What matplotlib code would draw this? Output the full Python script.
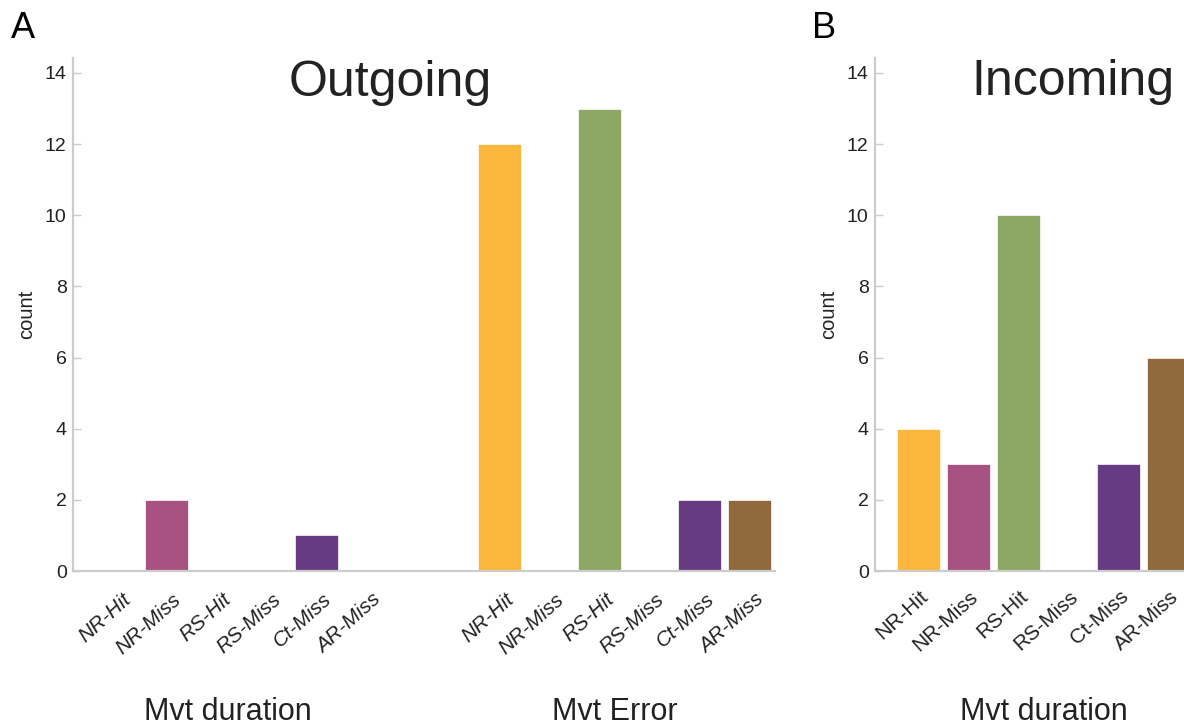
import numpy as np
import matplotlib
matplotlib.use("Agg")
import matplotlib.pyplot as plt
import matplotlib.transforms as mtransforms

plt.rcParams['font.family'] = ['Liberation Sans', 'DejaVu Sans']

categories = ['NR-Hit', 'NR-Miss', 'RS-Hit', 'RS-Miss', 'Ct-Miss', 'AR-Miss']
colors = ['#FBB73C', '#A85282', '#8DA865', '#4F7DB0', '#673A84', '#8F683B']
groups = ['Mvt duration', 'Mvt Error']

out_duration = [0, 2, 0, 0, 1, 0]
out_error = [12, 0, 13, 0, 2, 2]
in_duration = [4, 3, 10, 0, 3, 6]

group_offsets = [0.0, 7.66]
yticks = [0, 2, 4, 6, 8, 10, 12, 14]

spine_col = '#CCCCCC'
text_col = '#222222'

fig = plt.figure(figsize=(11.84, 7.26), dpi=100)
W, H = 1184, 726


def make_axes(left_px):
    ax = fig.add_axes([left_px / W, (H - 571) / H, 702 / W, 513 / H])
    ax.set_xlim(-0.88, 13.16)
    ax.set_ylim(0, 14.42)
    for s in ['top', 'right']:
        ax.spines[s].set_visible(False)
    for s in ['left', 'bottom']:
        ax.spines[s].set_color(spine_col)
        ax.spines[s].set_linewidth(1.6)
        ax.spines[s].set_zorder(3)
    ax.set_yticks(yticks)
    ax.tick_params(axis='y', direction='in', length=6, width=1, color=spine_col,
                   pad=4.5, labelsize=14, labelcolor=text_col)
    ax.set_ylabel('count', fontsize=14.5, color=text_col)
    ax.yaxis.set_label_coords(-0.052, 0.5)
    return ax


def draw_group(ax, values, offset):
    x = np.arange(len(values)) + offset
    ax.bar(x, values, width=0.88, color=colors, edgecolor='white', linewidth=1.2, zorder=1)
    return x


def set_xlabels(ax, positions, italic, dx_px, pad, rot):
    ax.set_xticks(positions)
    ax.set_xticklabels(categories * (len(positions) // len(categories)),
                       rotation=rot, ha='right', va='top', rotation_mode='anchor',
                       fontsize=15, color=text_col,
                       style='italic' if italic else 'normal')
    ax.tick_params(axis='x', length=0, pad=pad)
    off = mtransforms.ScaledTranslation(dx_px / 100, 0, fig.dpi_scale_trans)
    for lab in ax.get_xticklabels():
        lab.set_transform(lab.get_transform() + off)


# Panel A - outgoing
axA = make_axes(73)
xa1 = draw_group(axA, out_duration, group_offsets[0])
xa2 = draw_group(axA, out_error, group_offsets[1])
set_xlabels(axA, list(xa1) + list(xa2), True, 5, 13.5, 42)
axA.text(xa1.mean() - 0.28, 6 / H, groups[0], transform=mtransforms.blended_transform_factory(axA.transData, fig.transFigure),
         ha='center', va='baseline', fontsize=22, color=text_col)
axA.text(xa2.mean() - 0.21, 6 / H, groups[1], transform=mtransforms.blended_transform_factory(axA.transData, fig.transFigure),
         ha='center', va='baseline', fontsize=22, color=text_col)

# Panel B - incoming (cut by the figure edge)
axB = make_axes(875)
xb1 = draw_group(axB, in_duration, group_offsets[0])
set_xlabels(axB, list(xb1), False, 0, 11.5, 42)
axB.text(xb1.mean(), 6 / H, groups[0], transform=mtransforms.blended_transform_factory(axB.transData, fig.transFigure),
         ha='center', va='baseline', fontsize=22, color=text_col)

fig.text(390 / W, (H - 96) / H, 'Outgoing', fontsize=36, ha='center', va='baseline', color=text_col)
fig.text(1073 / W, (H - 95) / H, 'Incoming', fontsize=36, ha='center', va='baseline', color=text_col)
fig.text(11 / W, (H - 38) / H, 'A', fontsize=26, ha='left', va='baseline', color='black')
fig.text(812 / W, (H - 38) / H, 'B', fontsize=26, ha='left', va='baseline', color='black')

fig.savefig('out.png', dpi=100)
